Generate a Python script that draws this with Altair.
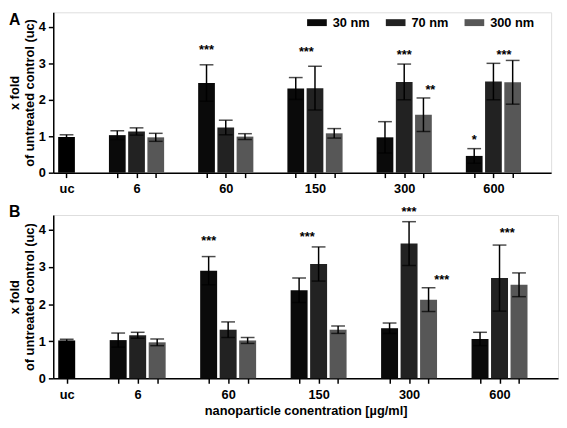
import altair as alt
import pandas as pd

# ---------------- data ----------------
groups = ["uc", "6", "60", "150", "300", "600"]
sizes = ["30 nm", "70 nm", "300 nm"]

# panel A
a_uc = 0.98
a_uc_err = 0.06
a_30 = [1.03, 2.46, 2.31, 0.97, 0.46]
a_30_err = [0.12, 0.50, 0.30, 0.43, 0.20]
a_70 = [1.13, 1.24, 2.32, 2.49, 2.50]
a_70_err = [0.10, 0.20, 0.60, 0.49, 0.50]
a_300 = [0.97, 0.99, 1.08, 1.59, 2.48]
a_300_err = [0.11, 0.08, 0.13, 0.46, 0.60]
# stars: (group, anchor bar (0=30nm,1=70nm,2=300nm; fractional = between), text, y)
a_stars = [("60", 0, "***", 3.41), ("150", 0.55, "***", 3.36),
           ("300", 1, "***", 3.29), ("300", 2.36, "**", 2.32),
           ("600", 0, "*", 0.96), ("600", 1.55, "***", 3.27)]

# panel B
b_uc = 1.02
b_uc_err = 0.03
b_30 = [1.03, 2.90, 2.37, 1.35, 1.06]
b_30_err = [0.19, 0.38, 0.33, 0.14, 0.18]
b_70 = [1.16, 1.31, 3.08, 3.63, 2.70]
b_70_err = [0.08, 0.21, 0.46, 0.59, 0.89]
b_300 = [0.97, 1.02, 1.31, 2.12, 2.52]
b_300_err = [0.09, 0.08, 0.10, 0.32, 0.32]
b_stars = [("60", 0, "***", 3.74), ("150", 0.42, "***", 3.87),
           ("300", 1, "***", 4.54), ("300", 2.68, "***", 2.69),
           ("600", 1.4, "***", 3.96)]

# ---------------- layout helpers ----------------
GAP = 2.64          # distance (in bar steps) between groups
HALF = 0.435        # half bar width (in bar steps)
XDOM = [-0.69, 25.2]
colors = {"uc": "#000000", "30 nm": "#0a0a0a", "70 nm": "#222222", "300 nm": "#575757"}
FONT = "Liberation Sans"


def first_pos(k):
    return round(GAP + (k - 1) * (2 + GAP), 3)


def build(uc, uc_err, s30, s30e, s70, s70e, s300, s300e, stars):
    rows = [dict(group="uc", size="uc", pos=0.0, val=uc, err=uc_err)]
    series = [(s30, s30e), (s70, s70e), (s300, s300e)]
    for k, g in enumerate(groups[1:], start=1):
        for j, (vals, errs) in enumerate(series):
            rows.append(dict(group=g, size=sizes[j], pos=round(first_pos(k) + j, 3),
                             val=vals[k - 1], err=errs[k - 1]))
    df = pd.DataFrame(rows)
    df["x0"] = df["pos"] - HALF
    df["x1"] = df["pos"] + HALF
    df["lo"] = df["val"] - df["err"]
    df["hi"] = df["val"] + df["err"]
    srows = []
    for g, anchor, t, y in stars:
        k = groups.index(g)
        srows.append(dict(pos=first_pos(k) + anchor, yv=y, t=t))
    return df, pd.DataFrame(srows)


tick_values = [0.0]
label_map = {0.0: "uc"}
for k, g in enumerate(groups[1:], start=1):
    for j in range(3):
        tick_values.append(round(first_pos(k) + j, 3))
    label_map[round(first_pos(k) + 1, 3)] = g
label_expr = " : ".join(f"abs(datum.value - {v}) < 0.05 ? '{t}'"
                        for v, t in label_map.items()) + " : ''"

path = "M-1,-0.35L1,-0.35L1,0.35L-1,0.35Z"


def panel(df, sdf, letter, width, height, letter_y, show_legend, show_xtitle):
    yscale = alt.Scale(domain=[0, 4.4], nice=False, zero=True)
    xscale = alt.Scale(domain=XDOM, nice=False, zero=False)
    xtitle = "nanoparticle conentration [µg/ml]" if show_xtitle else ""
    xaxis = alt.Axis(values=tick_values, labelExpr=label_expr, labelOverlap=False,
                     labelFlush=False, grid=False, tickSize=5, tickWidth=1.5,
                     tickColor="black", domainColor="black", domainWidth=1.5,
                     labelFontSize=13, labelFontWeight="bold", labelColor="black",
                     labelPadding=5, titleFontSize=13, titleFontWeight="bold",
                     titleColor="black", titlePadding=4)
    ytitle = ["x fold", "of untreated control (uc)"]
    yaxis = alt.Axis(values=[0, 1, 2, 3, 4], grid=False, tickSize=5, tickWidth=1.5,
                     tickColor="black", domainColor="black", domainWidth=1.5,
                     labelFontSize=13, labelFontWeight="bold", labelColor="black",
                     labelPadding=3, titleFontSize=13, titleFontWeight="bold",
                     titleColor="black", titleLineHeight=15, titleX=-35,
                     titleY=height / 2, titleAngle=270, titleAlign="center",
                     titleBaseline="alphabetic", labelOverlap=False)
    if show_legend:
        legend = alt.Legend(orient="none", legendX=258, legendY=0.5, direction="horizontal",
                            title=None, symbolType=path, symbolSize=400, symbolStrokeWidth=0,
                            labelFontSize=13, labelFontWeight="bold", labelColor="black",
                            labelOffset=6, columnPadding=16, values=sizes, padding=0,
                            symbolOpacity=1)
    else:
        legend = None

    def X(field):
        if show_xtitle:
            return alt.X(field, scale=xscale, axis=xaxis, title=xtitle)
        return alt.X(field, scale=xscale, axis=xaxis, title=None)

    def Y(field):
        return alt.Y(field, scale=yscale, axis=yaxis, title=ytitle)

    base = alt.Chart(df)
    bars = base.mark_bar(opacity=1).encode(
        x=X("x0:Q"),
        x2="x1:Q",
        y=Y("val:Q"),
        y2=alt.datum(0),
        color=alt.Color("size:N", scale=alt.Scale(domain=list(colors.keys()),
                                                  range=list(colors.values())),
                        legend=legend),
    )
    rules = base.mark_rule(color="black", strokeWidth=1.5).encode(
        x=X("pos:Q"), y=Y("lo:Q"), y2="hi:Q")
    cap_hi = base.mark_tick(color="black", orient="horizontal", size=14, thickness=1.5).encode(
        x=X("pos:Q"), y=Y("hi:Q"))
    cap_lo = base.mark_tick(color="black", orient="horizontal", size=14, thickness=1.5).encode(
        x=X("pos:Q"), y=Y("lo:Q"))
    stars = alt.Chart(sdf).mark_text(fontSize=13, fontWeight="bold", color="black",
                                     baseline="alphabetic", dy=6).encode(
        x=X("pos:Q"), y=Y("yv:Q"), text="t:N")
    lab = alt.Chart(pd.DataFrame({"t": [letter]})).mark_text(
        fontSize=16, fontWeight="bold", color="black", align="left", baseline="top").encode(
        x=alt.value(-45), y=alt.value(letter_y), text="t:N")
    return alt.layer(bars, rules, cap_hi, cap_lo, stars, lab).properties(
        width=width, height=height)


dfa, sa = build(a_uc, a_uc_err, a_30, a_30_err, a_70, a_70_err, a_300, a_300_err, a_stars)
dfb, sb = build(b_uc, b_uc_err, b_30, b_30_err, b_70, b_70_err, b_300, b_300_err, b_stars)

pa = panel(dfa, sa, "A", 506, 163, 0, True, False)
pb = panel(dfb, sb, "B", 513, 166, -11, False, True)

chart = alt.vconcat(pa, pb, spacing=7).resolve_scale(color="independent").properties(
    padding={"left": 0, "top": 0, "right": 0, "bottom": 0}
).configure_view(stroke=None).configure_axisX(labelOverlap=False).configure(
    font=FONT, background="white")

chart.save("out.html", embed_options={"renderer": "svg", "actions": False})
